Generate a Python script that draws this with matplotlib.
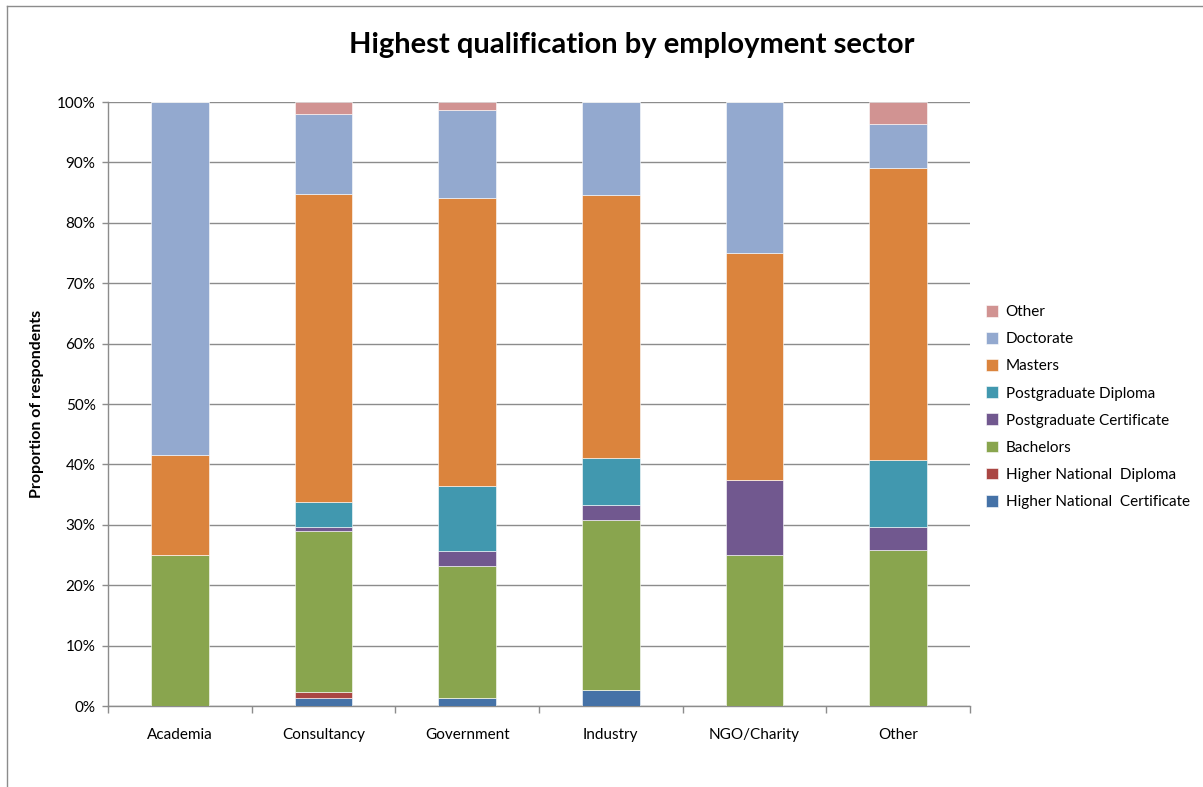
import matplotlib.pyplot as plt
from matplotlib.lines import Line2D
import numpy as np

sectors = ['Academia', 'Consultancy', 'Government', 'Industry', 'NGO/Charity', 'Other']
hnc = [0, 1.4, 1.3, 2.6, 0, 0]
hnd = [0, 1.0, 0, 0, 0, 0]
bachelors = [25.0, 26.5, 21.8, 28.2, 25.0, 25.9]
pg_cert = [0, 0.7, 2.5, 2.4, 12.5, 3.8]
pg_dip = [0, 4.2, 10.9, 7.8, 0, 11.1]
masters = [16.6, 50.9, 47.6, 43.6, 37.5, 48.2]
doctorate = [58.4, 13.3, 14.6, 15.4, 25.0, 7.4]
other = [0, 2.0, 1.3, 0, 0, 3.6]

series = [hnc, hnd, bachelors, pg_cert, pg_dip, masters, doctorate, other]
labels = ['Higher National  Certificate', 'Higher National  Diploma', 'Bachelors',
          'Postgraduate Certificate', 'Postgraduate Diploma', 'Masters', 'Doctorate', 'Other']
colors = ['#4572A7', '#AA4643', '#89A54E', '#71588F', '#4198AF', '#DB843D', '#93A9CF', '#D19392']

plt.rcParams['font.family'] = ['Lato', 'DejaVu Sans']

fig = plt.figure(figsize=(12.03, 7.87), dpi=100)
ax = fig.add_axes([108/1203, 1 - 706/787, (970-108)/1203, (706-102)/787])

x = np.arange(len(sectors))
bottom = np.zeros(len(sectors))
handles = []
for vals, lab, col in zip(series, labels, colors):
    b = ax.bar(x, vals, width=0.4, bottom=bottom, color=col, label=lab,
               edgecolor='white', linewidth=0.4, zorder=3)
    handles.append(b)
    bottom += np.array(vals)

ax.set_xlim(-0.5, 5.5)
ax.set_ylim(0, 100)
ax.set_yticks(range(0, 101, 10))
ax.set_yticklabels(['%d%%' % v for v in range(0, 101, 10)])
ax.yaxis.grid(True, color='#8c8c8c', linewidth=1, zorder=0)
ax.set_xticks(x)
ax.set_xticklabels(sectors)
ax.set_xticks(np.arange(-0.5, 6, 1), minor=True)
ax.tick_params(axis='x', which='major', length=0, pad=16, labelsize=11)
ax.tick_params(axis='x', which='minor', length=5, color='#8c8c8c', width=1)
ax.tick_params(axis='y', length=4, color='#8c8c8c', width=1, pad=5, labelsize=11)
for s in ['top', 'right']:
    ax.spines[s].set_visible(False)
for s in ['left', 'bottom']:
    ax.spines[s].set_color('#8c8c8c')
    ax.spines[s].set_linewidth(1)

ax.set_ylabel('Proportion of respondents', fontsize=11.5, fontweight='bold', labelpad=9)
fig.text(632/1203, 1 - 45/787, 'Highest qualification by employment sector',
         ha='center', va='center', fontsize=21, fontweight='bold')

fig.legend(handles[::-1], labels[::-1], loc='center left',
           bbox_to_anchor=(972/1203, 1 - 407/787), frameon=False, fontsize=11,
           handlelength=0.8, handleheight=0.8, handletextpad=0.5, labelspacing=0.85)

fig.add_artist(Line2D([7/1203, 1], [1 - 6/787, 1 - 6/787], color='#8c8c8c', linewidth=1))
fig.add_artist(Line2D([7/1203, 7/1203], [0, 1 - 6/787], color='#8c8c8c', linewidth=1))

plt.savefig('out.png', dpi=100)
